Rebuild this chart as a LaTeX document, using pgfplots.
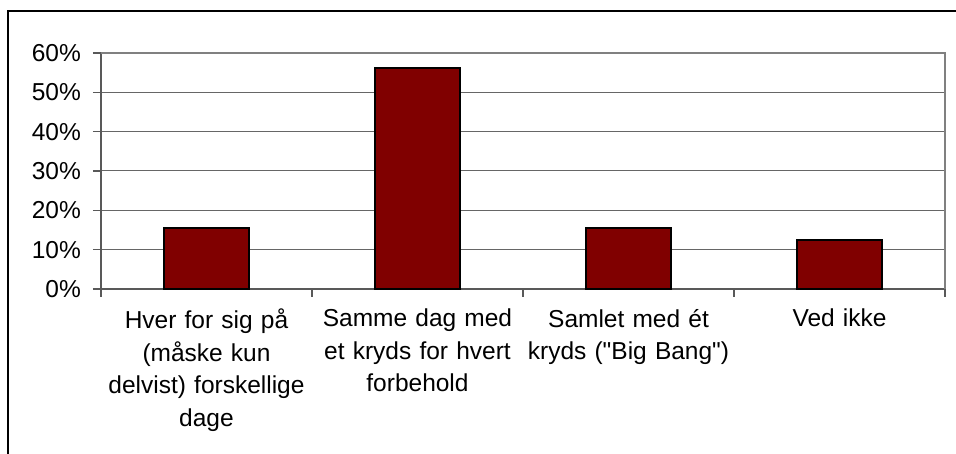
\documentclass[border=0pt]{standalone}
\usepackage{fontspec}
\setmainfont{Liberation Sans}
\newfontfamily\lsans{Liberation Sans}
\usepackage{pgfplots}
\pgfplotsset{compat=1.18}
\definecolor{barred}{HTML}{800000}
\begin{document}
\begin{tikzpicture}
\useasboundingbox (0,0) rectangle (956bp,454bp);
\draw[black, line width=1.2bp] (8bp,0) -- (8bp,443bp) -- (957bp,443bp);
\begin{axis}[
  at={(101bp,165bp)}, anchor=south west,
  scale only axis, width=844bp, height=236bp,
  xmin=-0.5, xmax=3.5, ymin=0, ymax=60,
  axis lines=left, axis line style={-, black!65, line width=1.2bp},
  ytick={0,10,20,30,40,50,60},
  yticklabels={0\%,10\%,20\%,30\%,40\%,50\%,60\%},
  xtick={0,1,2,3},
  xticklabels={{Hver for sig på\\(måske kun\\delvist) forskellige\\dage},
               {Samme dag med\\et kryds for hvert\\forbehold},
               {Samlet med ét\\kryds ("Big Bang")},
               {Ved ikke}},
  minor xtick={-0.5,0.5,1.5,2.5,3.5},
  tick align=outside,
  major tick length=8bp, minor tick length=8bp,
  x tick style={draw=none},
  minor x tick style={draw=black!65, line width=1.2bp},
  y tick style={black!65, line width=1.2bp},
  ymajorgrids, grid style={black!60, line width=1bp},
  every tick label/.append style={font=\lsans\fontsize{24.5bp}{32.5bp}\selectfont, text=black},
  yticklabel style={anchor=east, inner sep=0pt, xshift=-12bp},
  xticklabel style={text width=215bp, align=center, anchor=north, inner sep=0pt, yshift=-12bp},
  clip=false,
]
\addplot[ybar, bar width=85bp, fill=barred, draw=black, line width=2bp]
  coordinates {(0,15.6) (1,56.25) (2,15.6) (3,12.5)};
\draw[black!50, line width=2bp] (rel axis cs:0,1) -- (rel axis cs:1,1) -- (rel axis cs:1,0);
\end{axis}
\end{tikzpicture}
\end{document}
